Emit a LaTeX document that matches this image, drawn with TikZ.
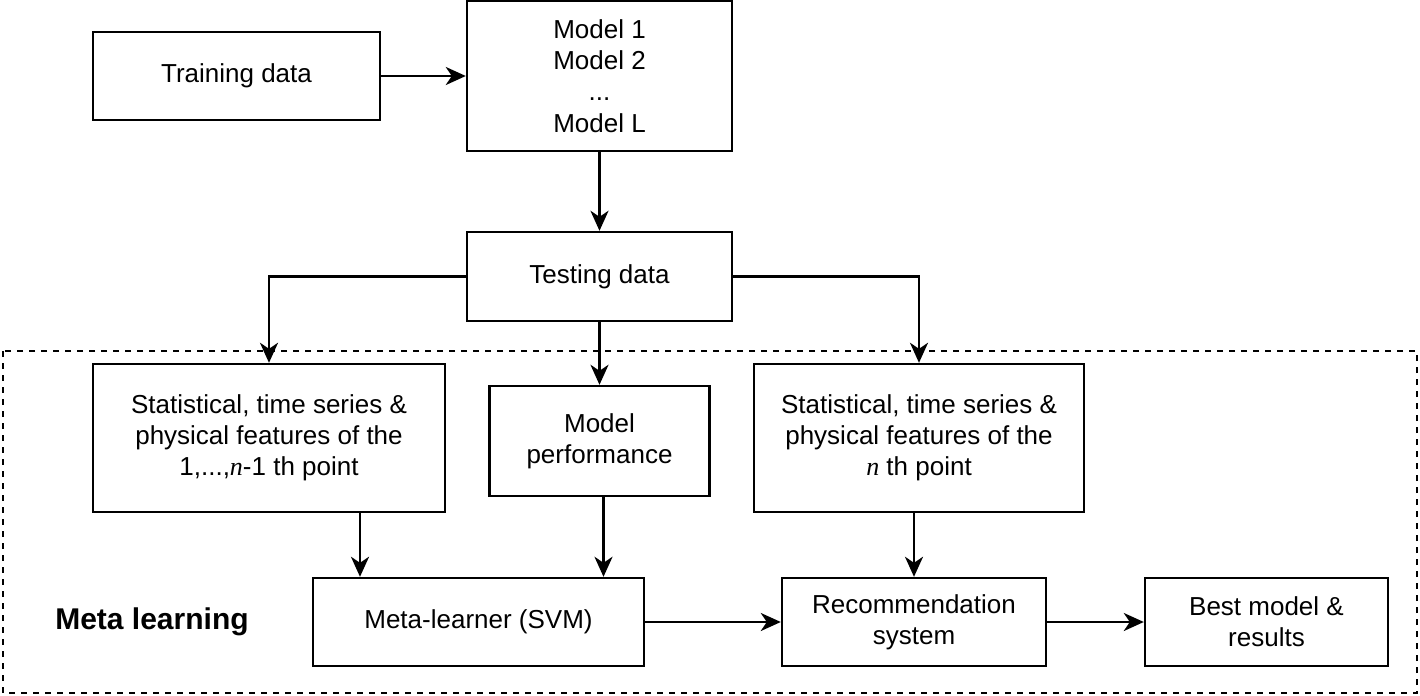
\documentclass[tikz,border=0pt]{standalone}
\usepackage{fontspec}
\setmainfont{Liberation Sans}
\newfontfamily\nfont{Liberation Serif}
\usetikzlibrary{arrows.meta}
\newcommand{\nvar}{{\nfont\itshape n}}
\tikzset{
	box/.style={draw, line width=1.2pt, align=center, inner sep=0pt},
	arr/.style={line width=1.2pt, -{Stealth[length=10pt, width=9pt, inset=3pt]}},
}

\begin{document}
\begin{tikzpicture}[x=0.5pt, y=-0.5pt, font=\fontsize{13}{15.6}\selectfont]
			%%%%% START %%%%%
			\useasboundingbox (0, 0) rectangle (1420, 696);
			
			\draw[line width=1.2pt, dash pattern=on 3pt off 3pt] (3, 351) rectangle (1417, 693);
			
			\node[box, minimum width=143.5pt, minimum height=44pt] (train) at (236.5, 76) {Training data};
			\node[box, minimum width=132.5pt, minimum height=75pt] (models) at (599.5, 76) {Model 1\\Model 2\\...\\Model L};
			\node[box, minimum width=132.5pt, minimum height=44.5pt] (test) at (599.5, 276.5) {Testing data};
			
			\node[box, minimum width=176pt, minimum height=74pt] (featA) at (269, 438) {Statistical, time series \&\\physical features of the\\1,...,\nvar-1 th point};
			\node[box, minimum width=110pt, minimum height=55pt] (perf) at (599.5, 441) {Model\\performance};
			\node[box, minimum width=165pt, minimum height=74pt] (featB) at (919, 438) {Statistical, time series \&\\physical features of the\\\nvar{} th point};
			
			\node[box, minimum width=165.5pt, minimum height=44pt] (meta) at (478.5, 622) {Meta-learner (SVM)};
			\node[box, minimum width=132pt, minimum height=44pt] (rec) at (914, 622) {Recommendation\\system};
			\node[box, minimum width=121.5pt, minimum height=44pt] (best) at (1266.5, 622) {Best model \&\\results};
			
			\node[font=\fontsize{15}{18}\selectfont\bfseries] (label) at (152, 622) {Meta learning};
			
			\draw[arr] (train) -- (models);
			\draw[arr] (models) -- (test);
			\draw[arr] (test.west) -| (featA.north);
			\draw[arr] (test.east) -| (featB.north);
			\draw[arr] (test) -- (perf);
			\draw[arr] ([xshift=45.5pt]featA.south) -- ([xshift=45.5pt]featA.south |- meta.north);
			\draw[arr] ([xshift=2pt]perf.south) -- ([xshift=2pt]perf.south |- meta.north);
			\draw[arr] (rec.north |- featB.south) -- (rec.north);
			\draw[arr] (meta) -- (rec);
			\draw[arr] (rec) -- (best);
			%%%%% END %%%%%
\end{tikzpicture}
\end{document}
